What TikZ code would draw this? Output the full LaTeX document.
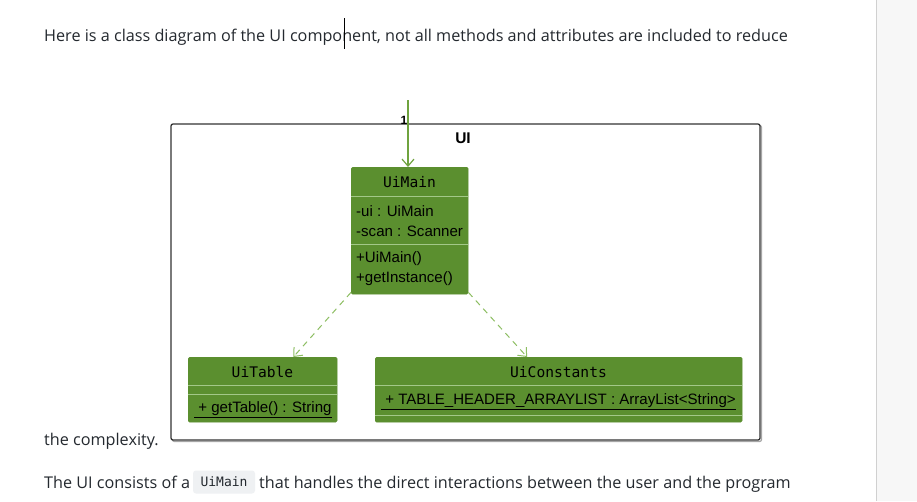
\documentclass[tikz,border=0pt]{standalone}
\usepackage{fontspec}
\setmainfont{Open Sans}
\newfontfamily\umlsans{Liberation Sans}
\newfontfamily\umlmono{DejaVu Sans Mono}
\usetikzlibrary{arrows.meta,calc}
\definecolor{boxgreen}{HTML}{5B8F2F}
\definecolor{sepgreen}{HTML}{A3C888}
\definecolor{arrgreen}{HTML}{6FA33F}
\definecolor{dashgreen}{HTML}{8DBE62}
\definecolor{bodytext}{HTML}{24292F}
\definecolor{codebg}{HTML}{EFF1F3}
\definecolor{panelgrey}{HTML}{F7F7F7}
\definecolor{panelline}{HTML}{D0D0D0}
\tikzset{
  umlbox/.style={fill=boxgreen, draw=boxgreen, rounded corners=1.5pt, anchor=north west, inner sep=0pt},
  umltitle/.style={font=\umlmono\fontsize{14.6}{16}\selectfont, text=black, inner sep=0pt},
  umlmember/.style={font=\umlsans\fontsize{15.05}{17}\selectfont, text=black, anchor=west, inner sep=0pt},
  sepline/.style={draw=sepgreen, line width=0.8pt},
  bodyline/.style={font=\fontsize{16.2}{19}\selectfont, text=bodytext, anchor=base west, inner sep=0pt},
  depend/.style={draw=dashgreen, line width=1pt, dash pattern=on 6pt off 5pt, -{Straight Barb[length=7pt,width=12pt,line width=1pt]}},
  assoc/.style={draw=arrgreen, line width=1.2pt, -{Straight Barb[length=7pt,width=12pt,line width=1.2pt]}},
}
\begin{document}
\begin{tikzpicture}[x=1pt,y=-1pt]
\useasboundingbox (0,0) rectangle (917,501);
\fill[white] (0,0) rectangle (917,501);
% right grey panel
\fill[panelgrey] (877,0) rectangle (917,501);
\draw[panelline, line width=1pt] (876.5,0) -- (876.5,501);

% body text
\node[bodyline] (line1) at (44,41) {Here is a class diagram of the UI component, not all methods and attributes are included to reduce};
\draw[black, line width=0.8pt] (344,18) -- (344,49);
\node[bodyline] (line2) at (44,445) {the complexity.};
\node[bodyline] (line3a) at (44,488) {The UI consists of a};
\node[fill=codebg, rounded corners=3pt, minimum width=62pt, minimum height=23pt, inner sep=0pt, font=\umlmono\fontsize{13}{15}\selectfont, text=bodytext] (code) at (224,482) {UiMain};
\node[bodyline] (line3b) at (259,488) {that handles the direct interactions between the user and the program};

% package UI
\draw[black!35, line width=1.3pt, rounded corners=2pt] (172.5,125.5) rectangle (761.5,441.5);
\draw[black!80, line width=1.3pt, rounded corners=2pt, fill=white] (171,124) rectangle (760,440);
\node[font=\umlsans\bfseries\fontsize{15.5}{17}\selectfont, inner sep=0pt] (pkglabel) at (463,138) {UI};

% UiMain
\node[umlbox, minimum width=117pt, minimum height=127pt] (uimain) at (351,167) {};
\node[umltitle] (uimaint) at (409.5,182) {UiMain};
\draw[sepline] (351,196) -- (468,196);
\draw[sepline] (351,244) -- (468,244);
\node[umlmember] (ma1) at (356,211.5) {-ui : UiMain};
\node[umlmember] (ma2) at (356,231) {-scan : Scanner};
\node[umlmember] (mm1) at (356,259) {+UiMain()};
\node[umlmember] (mm2) at (356,279) {+getInstance()};

% UiTable
\node[umlbox, minimum width=149pt, minimum height=65pt] (uitable) at (188,357) {};
\node[umltitle] (uitablet) at (262.5,372) {UiTable};
\draw[sepline] (188,385) -- (337,385);
\draw[sepline] (188,394) -- (337,394);
\node[umlmember] (tm1) at (194,410) {\underline{\ + getTable() : String}};

% UiConstants
\node[umlbox, minimum width=367pt, minimum height=65pt] (uiconst) at (375,357) {};
\node[umltitle] (uiconstt) at (558.5,372) {UiConstants};
\draw[sepline] (375,385.5) -- (742,385.5);
\draw[sepline] (375,415) -- (742,415);
\node[umlmember] (ca1) at (381,402) {\underline{\ + TABLE\_HEADER\_ARRAYLIST : ArrayList<String>}};

% connectors
\coordinate (entry) at (408,100);
\draw[assoc] (entry) -- (entry |- uimain.north);
\node[font=\umlsans\bfseries\fontsize{12}{14}\selectfont, inner sep=0pt] (mult) at (404,120) {1};
\draw[depend] ($(uimain.south west)+(0,-2)$) -- ($(uitable.north west)!0.705!(uitable.north east)$);
\draw[depend] ($(uimain.south east)+(0,-2)$) -- ($(uiconst.north west)!0.414!(uiconst.north east)$);
\end{tikzpicture}
\end{document}
